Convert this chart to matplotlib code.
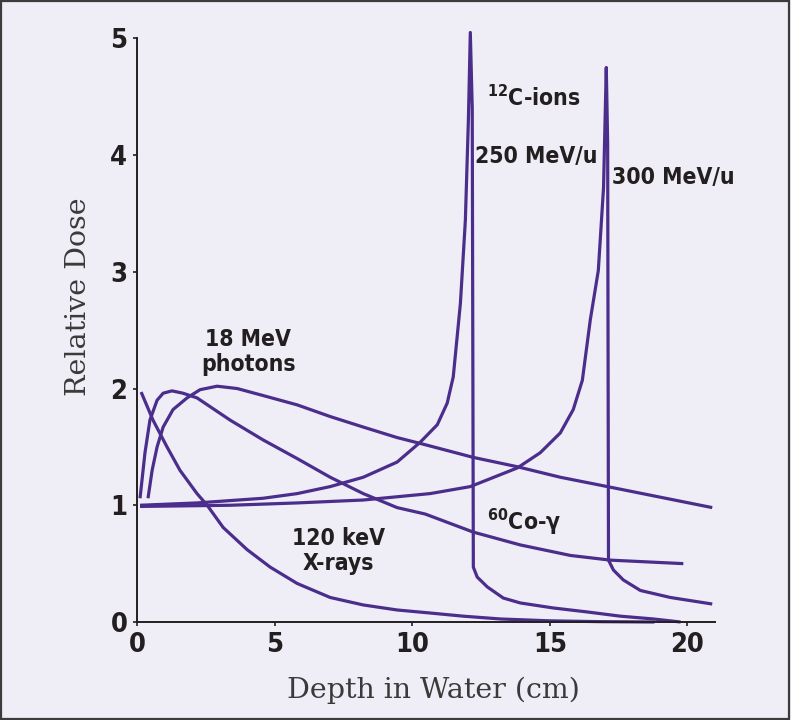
import matplotlib
matplotlib.use('Agg')
import matplotlib.pyplot as plt
from matplotlib import font_manager as fm
from matplotlib.patches import Rectangle

plt.rcParams['mathtext.default'] = 'regular'

# depth (cm) / relative dose
xray_depth = [0.15, 0.58, 1.09, 1.56, 2.18, 2.55, 3.13, 4.0, 4.84, 5.82, 7.02, 8.22, 9.45,
              10.65, 11.85, 13.2, 15.0, 16.8, 18.8]
xray_dose = [1.97, 1.73, 1.50, 1.30, 1.10, 1.00, 0.81, 0.62, 0.47, 0.33, 0.21, 0.146, 0.103,
             0.077, 0.05, 0.026, 0.01, 0.003, 0.0]

co_depth = [0.11, 0.29, 0.47, 0.73, 0.95, 1.27, 1.67, 2.18, 3.38, 4.58, 5.82, 7.02, 8.22,
            9.45, 10.47, 12.22, 13.93, 15.75, 17.2, 19.85]
co_dose = [1.06, 1.45, 1.73, 1.90, 1.96, 1.98, 1.96, 1.92, 1.73, 1.56, 1.40, 1.24, 1.10,
           0.98, 0.925, 0.77, 0.66, 0.57, 0.53, 0.50]

ph_depth = [0.40, 0.55, 0.73, 0.95, 1.31, 1.82, 2.29, 2.91, 3.64, 4.58, 5.82, 7.02, 8.22,
            9.45, 10.45, 12.22, 13.82, 15.38, 17.09, 20.9]
ph_dose = [1.06, 1.30, 1.50, 1.67, 1.82, 1.92, 1.99, 2.02, 2.00, 1.94, 1.86, 1.76, 1.67,
           1.58, 1.52, 1.41, 1.33, 1.24, 1.16, 0.98]

c250_depth = [0.11, 2.18, 4.58, 5.82, 7.02, 8.22, 9.45, 10.29, 10.91, 11.27, 11.49, 11.75,
              11.93, 12.04, 12.11, 12.18, 12.22, 12.36, 12.73, 13.31, 13.93, 15.13, 16.36,
              17.56, 18.76, 19.75]
c250_dose = [1.00, 1.02, 1.06, 1.10, 1.16, 1.24, 1.37, 1.54, 1.69, 1.875, 2.10, 2.73,
             3.44, 4.30, 5.05, 4.40, 0.47, 0.385, 0.30, 0.205, 0.163, 0.12, 0.086,
             0.05, 0.026, 0.0]

c300_depth = [0.11, 3.38, 5.82, 8.22, 10.65, 12.11, 13.82, 14.65, 15.38, 15.85, 16.18, 16.47,
              16.76, 16.95, 17.05, 17.1, 17.13, 17.31, 17.67, 18.29, 19.38, 20.9]
c300_dose = [0.99, 1.00, 1.02, 1.045, 1.10, 1.16, 1.32, 1.45, 1.62, 1.82, 2.07, 2.59,
             3.01, 3.72, 4.75, 4.10, 0.53, 0.445, 0.36, 0.27, 0.21, 0.154]

x_ticks = [0, 5, 10, 15, 20]
y_ticks = [0, 1, 2, 3, 4, 5]

bg = '#efeef7'
purple = '#4b2d8c'
ink = '#231f20'


def pick_condensed_bold():
    # narrow heavy sans for the numbers and labels, if installed;
    # DejaVu Sans stays in the list for glyphs it lacks (the gamma)
    stretch_rank = {'extra-condensed': 0, 'condensed': 1, 'narrow': 1, 'semi-condensed': 3}
    weight_rank = {700: 0, 800: 1, 600: 2}
    cands = []
    for f in fm.fontManager.ttflist:
        if f.stretch in stretch_rank and f.weight in weight_rank and 'Sans' in f.name \
                and 'Mono' not in f.name and f.style == 'normal':
            cands.append((stretch_rank[f.stretch], weight_rank[f.weight], len(f.name),
                          f.name, f.stretch, f.weight))
    if cands:
        cands.sort()
        name, stretch, weight = cands[0][3:]
        return fm.FontProperties(family=[name, 'DejaVu Sans'], weight=weight,
                                 stretch=stretch)
    return fm.FontProperties(family=['Liberation Sans', 'DejaVu Sans'], weight='bold')


cond = pick_condensed_bold()
tick_size = 19.5
note_size = 16.5

fig = plt.figure(figsize=(7.91, 7.2), dpi=100, facecolor=bg)
ax = fig.add_axes([137 / 791, 1 - 622 / 720, 578 / 791, 593 / 720])
ax.set_facecolor(bg)

for d, v in [(xray_depth, xray_dose), (co_depth, co_dose), (ph_depth, ph_dose),
             (c250_depth, c250_dose), (c300_depth, c300_dose)]:
    ax.plot(d, v, color=purple, lw=2.3, solid_joinstyle='round', solid_capstyle='butt',
            clip_on=False)

ax.set_xlim(0, 21.0)
ax.set_ylim(0, 5.08)
ax.set_xticks(x_ticks)
ax.set_yticks(y_ticks)
for side in ['top', 'right']:
    ax.spines[side].set_visible(False)
ax.spines['left'].set_bounds(0, 5)
for side in ['left', 'bottom']:
    ax.spines[side].set_color(ink)
    ax.spines[side].set_linewidth(1.4)
ax.tick_params(length=3, width=1.2, color=ink, pad=4, labelcolor=ink)
for lab in ax.get_xticklabels() + ax.get_yticklabels():
    lab.set_fontproperties(cond)
    lab.set_fontsize(tick_size)

ax.set_xlabel('Depth in Water (cm)', family='DejaVu Serif', fontsize=20.5, color='#3a3a3a')
ax.set_ylabel('Relative Dose', family='DejaVu Serif', fontsize=20.5, color='#3a3a3a')
ax.xaxis.set_label_coords((433 - 137) / 578, -68 / 593)
ax.xaxis.label.set_va('center')
ax.yaxis.set_label_coords(-59 / 578, 2.79 / 5.08)
ax.yaxis.label.set_va('center')

txt = dict(fontproperties=cond, fontsize=note_size, color=ink, va='center')
ax.text(12.73, 4.49, '$^{12}$C-ions', ha='left', **txt)
ax.text(12.29, 3.99, '250 MeV/u', ha='left', **txt)
ax.text(17.27, 3.81, '300 MeV/u', ha='left', **txt)
ax.text(4.04, 2.31, '18 MeV\nphotons', ha='center', linespacing=1.12, **txt)
ax.text(7.31, 0.61, '120 keV\nX-rays', ha='center', linespacing=1.12, **txt)
ax.text(12.73, 0.86, '$^{60}$Co-γ', ha='left', **txt)

fig.patches.append(Rectangle((0.001, 0.0015), 0.997, 0.997, transform=fig.transFigure,
                             fill=False, edgecolor='#3b3b3b', lw=1.6))

plt.savefig('out.png', dpi=100, facecolor=bg)
